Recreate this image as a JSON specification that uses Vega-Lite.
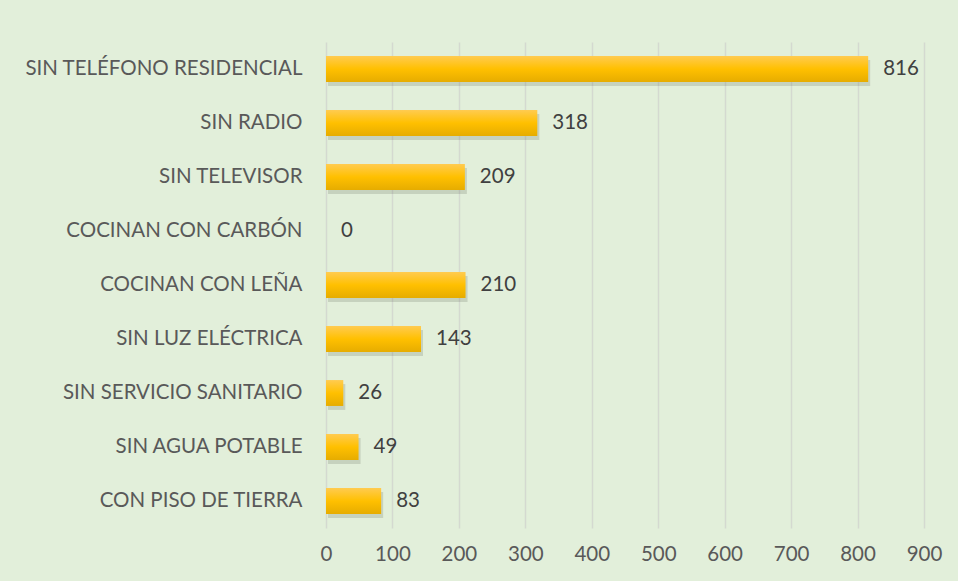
{
  "$schema": "https://vega.github.io/schema/vega-lite/v6.json",
  "width": 598,
  "height": 486,
  "autosize": {"type": "none"},
  "padding": {"left": 326, "top": 42, "right": 34, "bottom": 53},
  "background": "#E2EFDA",
  "config": {
    "view": {"stroke": null},
    "font": "Lato"
  },
  "data": {
    "values": [
      {"indicador": "SIN TELÉFONO RESIDENCIAL", "valor": 816},
      {"indicador": "SIN RADIO", "valor": 318},
      {"indicador": "SIN TELEVISOR", "valor": 209},
      {"indicador": "COCINAN CON CARBÓN", "valor": 0},
      {"indicador": "COCINAN CON LEÑA", "valor": 210},
      {"indicador": "SIN LUZ ELÉCTRICA", "valor": 143},
      {"indicador": "SIN SERVICIO SANITARIO", "valor": 26},
      {"indicador": "SIN AGUA POTABLE", "valor": 49},
      {"indicador": "CON PISO DE TIERRA", "valor": 83}
    ]
  },
  "encoding": {
    "y": {
      "field": "indicador",
      "type": "nominal",
      "sort": null,
      "scale": {"paddingInner": 0.52, "paddingOuter": 0.26},
      "axis": {
        "title": null,
        "ticks": false,
        "domain": false,
        "labelFontSize": 20.5,
        "labelColor": "#595959",
        "labelPadding": 24,
        "labelLimit": 0,
        "labelFont": "Lato"
      }
    },
    "x": {
      "field": "valor",
      "type": "quantitative",
      "scale": {"domain": [0, 900], "nice": false},
      "axis": {
        "title": null,
        "values": [0, 100, 200, 300, 400, 500, 600, 700, 800, 900],
        "ticks": false,
        "domain": false,
        "grid": true,
        "gridColor": "#D4D9D0",
        "gridWidth": 1.5,
        "labelFontSize": 20.5,
        "labelColor": "#595959",
        "labelPadding": 16,
        "labelFlush": false,
        "labelOverlap": false,
        "labelFont": "Lato"
      }
    }
  },
  "layer": [
    {
      "mark": {"type": "bar", "color": "#5A6050", "opacity": 0.2, "yOffset": 4, "xOffset": 2},
      "encoding": {}
    },
    {
      "mark": {
        "type": "bar",
        "color": {
          "gradient": "linear",
          "x1": 0, "y1": 0, "x2": 0, "y2": 1,
          "stops": [
            {"offset": 0, "color": "#FFCB50"},
            {"offset": 0.5, "color": "#FFC000"},
            {"offset": 1, "color": "#E6AC00"}
          ]
        }
      },
      "encoding": {}
    },
    {
      "mark": {"type": "text", "align": "left", "dx": 15, "fontSize": 20.5, "color": "#404040", "font": "Lato"},
      "encoding": {"text": {"field": "valor", "type": "quantitative"}}
    }
  ]
}
